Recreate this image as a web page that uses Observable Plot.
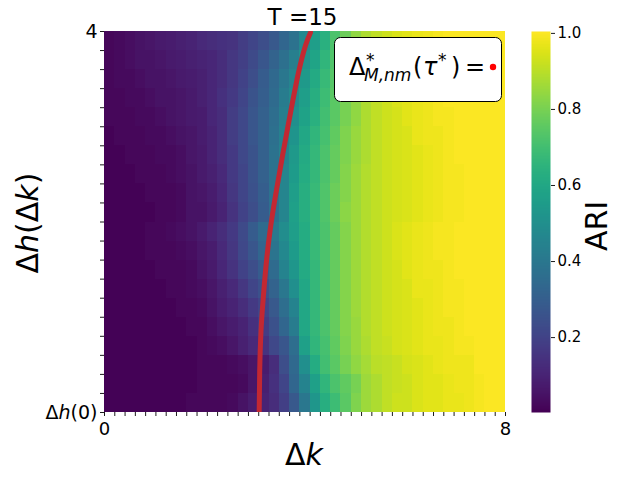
<!DOCTYPE html>
<html><head><meta charset="utf-8">
<script src="https://cdn.jsdelivr.net/npm/d3@7"></script>
<script src="https://cdn.jsdelivr.net/npm/@observablehq/plot@0.6"></script>
<style>
html,body{margin:0;padding:0;background:#fff;}
#chart{position:relative;width:620px;height:478px;overflow:hidden;font-family:"DejaVu Sans",sans-serif;}
#chart svg{position:absolute;top:0;}
</style></head><body><div id="chart"></div>
<script>
// ---- Data: ARI values, rows from bottom (Δh(0)) to top (4), 39 columns over Δk ∈ [0, 8]
const row00 = [0.01,0.01,0.01,0.01,0.01,0.01,0.01,0.01,0.02,0.02,0.02,0.02,0.03,0.05,0.08,0.10,0.13,0.19,0.28,0.40,0.53,0.63,0.69,0.75,0.81,0.86,0.88,0.91,0.93,0.93,0.95,0.96,0.96,0.97,0.97,0.98,0.99,1.0,1.0];
const row01 = [0.01,0.01,0.01,0.01,0.01,0.01,0.01,0.01,0.01,0.02,0.02,0.02,0.02,0.03,0.06,0.09,0.14,0.21,0.33,0.45,0.57,0.66,0.72,0.76,0.80,0.86,0.88,0.91,0.92,0.93,0.95,0.96,0.96,0.97,0.98,0.98,0.99,1.0,1.0];
const row02 = [0.01,0.01,0.01,0.01,0.01,0.01,0.01,0.01,0.01,0.02,0.02,0.02,0.03,0.04,0.06,0.08,0.13,0.24,0.34,0.50,0.62,0.70,0.75,0.80,0.84,0.87,0.90,0.91,0.92,0.94,0.95,0.96,0.97,0.98,0.98,0.98,1.0,1.0,1.0];
const row03 = [0.01,0.01,0.01,0.01,0.01,0.01,0.01,0.01,0.01,0.02,0.03,0.04,0.06,0.09,0.12,0.15,0.22,0.27,0.36,0.57,0.66,0.71,0.76,0.81,0.85,0.88,0.91,0.92,0.94,0.95,0.96,0.97,0.97,0.98,0.99,0.99,1.0,1.0,1.0];
const row04 = [0.01,0.01,0.01,0.01,0.01,0.01,0.01,0.01,0.02,0.02,0.04,0.06,0.08,0.10,0.14,0.18,0.25,0.33,0.42,0.60,0.67,0.72,0.77,0.82,0.85,0.89,0.91,0.93,0.94,0.95,0.96,0.97,0.98,0.98,0.99,1.0,1.0,1.0,1.0];
const row05 = [0.01,0.01,0.01,0.01,0.01,0.01,0.01,0.02,0.02,0.03,0.05,0.08,0.10,0.13,0.17,0.21,0.28,0.36,0.45,0.60,0.67,0.72,0.77,0.82,0.86,0.89,0.91,0.93,0.94,0.95,0.96,0.97,0.98,0.99,0.99,1.0,1.0,1.0,1.0];
const row06 = [0.01,0.01,0.01,0.01,0.01,0.01,0.02,0.02,0.03,0.04,0.06,0.09,0.12,0.16,0.21,0.25,0.32,0.40,0.50,0.60,0.67,0.72,0.77,0.82,0.86,0.89,0.91,0.93,0.94,0.95,0.97,0.97,0.98,0.99,0.99,1.0,1.0,1.0,1.0];
const row07 = [0.01,0.01,0.01,0.01,0.01,0.02,0.02,0.02,0.03,0.05,0.07,0.11,0.15,0.20,0.24,0.29,0.35,0.45,0.53,0.61,0.67,0.72,0.77,0.82,0.86,0.89,0.91,0.93,0.94,0.96,0.97,0.98,0.98,0.99,1.0,1.0,1.0,1.0,1.0];
const row08 = [0.01,0.01,0.01,0.01,0.02,0.02,0.02,0.03,0.04,0.06,0.08,0.12,0.16,0.22,0.27,0.33,0.39,0.47,0.55,0.62,0.68,0.72,0.77,0.82,0.86,0.89,0.91,0.93,0.95,0.96,0.97,0.98,0.99,0.99,1.0,1.0,1.0,1.0,1.0];
const row09 = [0.01,0.01,0.01,0.01,0.02,0.02,0.03,0.04,0.05,0.07,0.10,0.13,0.17,0.23,0.29,0.35,0.41,0.49,0.56,0.62,0.68,0.72,0.77,0.82,0.86,0.89,0.91,0.93,0.95,0.96,0.97,0.98,0.99,0.99,1.0,1.0,1.0,1.0,1.0];
const row10 = [0.01,0.01,0.01,0.01,0.01,0.02,0.02,0.03,0.05,0.05,0.07,0.10,0.15,0.20,0.24,0.29,0.37,0.46,0.57,0.63,0.68,0.73,0.78,0.83,0.86,0.89,0.91,0.93,0.94,0.95,0.96,0.97,0.98,0.99,0.99,1.0,1.0,1.0,1.0];
const row11 = [0.01,0.01,0.01,0.01,0.02,0.02,0.02,0.03,0.05,0.06,0.08,0.11,0.16,0.21,0.25,0.30,0.38,0.46,0.56,0.63,0.68,0.73,0.78,0.82,0.86,0.89,0.91,0.93,0.94,0.95,0.96,0.97,0.98,0.99,0.99,1.0,1.0,1.0,1.0];
const row12 = [0.01,0.01,0.01,0.02,0.02,0.02,0.03,0.04,0.05,0.07,0.09,0.12,0.17,0.21,0.26,0.31,0.38,0.46,0.55,0.62,0.67,0.72,0.77,0.82,0.86,0.89,0.91,0.93,0.94,0.95,0.96,0.97,0.98,0.99,0.99,1.0,1.0,1.0,1.0];
const row13 = [0.01,0.01,0.02,0.02,0.02,0.03,0.03,0.04,0.06,0.07,0.10,0.13,0.17,0.22,0.26,0.31,0.38,0.45,0.54,0.61,0.67,0.72,0.77,0.81,0.85,0.88,0.91,0.93,0.94,0.95,0.96,0.97,0.98,0.99,1.0,1.0,1.0,1.0,1.0];
const row14 = [0.01,0.02,0.02,0.02,0.03,0.03,0.04,0.05,0.06,0.08,0.10,0.13,0.18,0.22,0.27,0.31,0.37,0.44,0.52,0.60,0.66,0.71,0.76,0.81,0.85,0.88,0.91,0.93,0.94,0.95,0.97,0.98,0.98,0.99,1.0,1.0,1.0,1.0,1.0];
const row15 = [0.02,0.02,0.02,0.03,0.03,0.04,0.05,0.06,0.07,0.08,0.11,0.13,0.18,0.22,0.27,0.31,0.36,0.43,0.50,0.58,0.64,0.70,0.75,0.80,0.84,0.88,0.91,0.93,0.94,0.96,0.97,0.98,0.99,0.99,1.0,1.0,1.0,1.0,1.0];
const row16 = [0.02,0.02,0.03,0.03,0.04,0.05,0.05,0.06,0.07,0.09,0.11,0.14,0.17,0.21,0.26,0.30,0.35,0.42,0.48,0.56,0.63,0.69,0.75,0.80,0.84,0.88,0.91,0.93,0.95,0.96,0.97,0.98,0.99,1.0,1.0,1.0,1.0,1.0,1.0];
const row17 = [0.02,0.03,0.03,0.04,0.05,0.05,0.06,0.07,0.08,0.09,0.11,0.13,0.16,0.20,0.24,0.29,0.34,0.40,0.46,0.54,0.61,0.68,0.74,0.79,0.84,0.88,0.91,0.93,0.95,0.96,0.97,0.98,0.99,1.0,1.0,1.0,1.0,1.0,1.0];
const row18 = [0.02,0.03,0.04,0.05,0.05,0.06,0.07,0.08,0.09,0.10,0.11,0.13,0.16,0.19,0.23,0.27,0.32,0.37,0.43,0.51,0.59,0.66,0.73,0.79,0.84,0.88,0.91,0.93,0.95,0.96,0.97,0.98,0.99,1.0,1.0,1.0,1.0,1.0,1.0];
const row19 = [0.02,0.03,0.04,0.05,0.06,0.07,0.08,0.09,0.10,0.12,0.13,0.14,0.15,0.18,0.21,0.24,0.28,0.33,0.38,0.47,0.56,0.64,0.72,0.78,0.84,0.88,0.91,0.93,0.95,0.96,0.97,0.98,0.99,1.0,1.0,1.0,1.0,1.0,1.0];
const ariRows = [row00,row01,row02,row03,row04,row05,row06,row07,row08,row09,row10,row11,row12,row13,row14,row15,row16,row17,row18,row19];

// Red curve Δ*_{M,nm}(τ*) (Δk, Δh)
const curveDk = [3.086, 3.096, 3.122, 3.162, 3.222, 3.302, 3.411, 3.551, 3.711, 3.870, 4.010, 4.110];
const curveDh = [0.000, 0.432, 0.853, 1.168, 1.537, 1.905, 2.274, 2.695, 3.147, 3.568, 3.853, 3.989];

// Axes / ticks
const xMax = 8, yMax = 4;
const xTickValues = [0, 8];
const xTickLabels = ["0", "8"];
const yTickValues = [0, 4];
const yTickLabels = ["Δh(0)", "4"];
const cbTicks = [0.2, 0.4, 0.6, 0.8, 1.0];
const ariDomain = [0.003, 1.005];
const titleText = "T =15";
const curveColor = "#c22832";

// ---- Build tables
const nRows = ariRows.length, nCols = row00.length;
const cw = xMax / nCols, rh = yMax / nRows;
const cells = [];
ariRows.forEach((row, r) => row.forEach((v, c) => cells.push({x1: c*cw, x2: (c+1)*cw, y1: r*rh, y2: (r+1)*rh, v})));
const curve = curveDk.map((x, i) => ({x, y: curveDh[i]}));
const xMinor = d3.range(1, nCols).map(i => i*cw);
const yMinor = d3.range(1, nRows).map(i => i*rh);

const FONT = "DejaVu Sans, sans-serif";
const W = 620, H = 478;

const main = Plot.plot({
  width: W, height: H,
  marginLeft: 104, marginRight: 115, marginTop: 31, marginBottom: 66,
  style: {fontFamily: FONT, color: "black", background: "white", overflow: "visible"},
  x: {domain: [0, xMax], label: null, axis: null},
  y: {domain: [0, yMax], label: null, axis: null},
  color: {type: "linear", scheme: "viridis", domain: ariDomain},
  marks: [
    Plot.rect(cells, {x1: "x1", x2: "x2", y1: "y1", y2: "y2", fill: "v", shapeRendering: "crispEdges"}),
    Plot.line(curve, {x: "x", y: "y", stroke: curveColor, strokeWidth: 5, curve: "natural", clip: true, strokeLinecap: "round"}),
    Plot.axisX({ticks: xMinor, tickSize: 4, tickFormat: () => "", strokeWidth: 0.9}),
    Plot.axisX({ticks: xTickValues, tickSize: 4, tickPadding: 6, strokeWidth: 0.9, fontSize: 18,
      tickFormat: d => xTickLabels[xTickValues.indexOf(d)]}),
    Plot.axisY({ticks: yMinor, tickSize: 4, tickFormat: () => "", strokeWidth: 0.9}),
    Plot.axisY({ticks: yTickValues, tickSize: 4, tickPadding: 3, strokeWidth: 0.9, fontSize: 19,
      tickFormat: d => yTickLabels[yTickValues.indexOf(d)]})
  ]
});

const svg = d3.select(main);
// italic h in Δh(0)
svg.selectAll("text").each(function() {
  if (this.textContent === "Δh(0)") {
    const t = d3.select(this); t.text(null);
    t.append("tspan").text("Δ");
    t.append("tspan").attr("font-style", "italic").text("h");
    t.append("tspan").text("(0)");
  }
});
// Title
svg.append("text").attr("x", 302.5).attr("y", 25).attr("text-anchor", "middle")
  .attr("font-family", FONT).attr("font-size", 23).attr("fill", "black").text(titleText);
// X label Δk
const xl = svg.append("text").attr("x", 304).attr("y", 465).attr("text-anchor", "middle")
  .attr("font-family", FONT).attr("font-size", 30).attr("fill", "black");
xl.append("tspan").text("Δ"); xl.append("tspan").attr("font-style", "italic").text("k");
// Y label Δh(Δk)
const yl = svg.append("text").attr("transform", "translate(38,223) rotate(-90)").attr("text-anchor", "middle")
  .attr("font-family", FONT).attr("font-size", 30).attr("fill", "black");
yl.append("tspan").text("Δ"); yl.append("tspan").attr("font-style", "italic").text("h");
yl.append("tspan").text("(Δ"); yl.append("tspan").attr("font-style", "italic").text("k");
yl.append("tspan").text(")");
// Legend box
const lg = svg.append("g").attr("font-family", FONT).attr("fill", "black").attr("text-anchor", "start");
lg.append("rect").attr("x", 334.5).attr("y", 37.5).attr("width", 167).attr("height", 64).attr("rx", 6)
  .attr("fill", "white").attr("stroke", "black").attr("stroke-width", 1);
const lt = (x, y, size, str, italic) => lg.append("text").attr("x", x).attr("y", y)
  .attr("font-size", size).attr("text-anchor", "start").attr("font-style", italic ? "italic" : "normal").text(str);
lt(349, 75, 24, "Δ");
lt(366, 66, 17, "*");
lt(364, 81, 17, "M,nm", true);
lt(413, 75, 24, "(");
lt(423, 75, 24, "τ", true);
lt(438, 66, 17, "*");
lt(451, 75, 24, ")");
lt(465, 75, 24, "=");
lg.append("circle").attr("cx", 493).attr("cy", 67).attr("r", 3.2).attr("fill", "red");

// ---- Colorbar
const cb = Plot.plot({
  width: 89, height: H,
  marginLeft: 0, marginRight: 70, marginTop: 31, marginBottom: 66,
  style: {fontFamily: FONT, color: "black", background: "transparent", overflow: "visible"},
  x: {domain: [0, 1], axis: null},
  y: {domain: ariDomain, label: null, axis: null},
  color: {type: "linear", scheme: "viridis", domain: ariDomain},
  marks: [
    Plot.raster({fill: (x, y) => y, x1: 0, x2: 1, y1: ariDomain[0], y2: ariDomain[1], pixelSize: 1}),
    Plot.axisY({anchor: "right", ticks: cbTicks, tickSize: 4, tickPadding: 3, strokeWidth: 0.9, fontSize: 15,
      tickFormat: d => d.toFixed(1)})
  ]
});
cb.style.left = "531px";
d3.select(cb).append("text").attr("transform", "translate(76,226) rotate(-90)").attr("text-anchor", "middle")
  .attr("font-family", FONT).attr("font-size", 30).attr("fill", "black").text("ARI");

const chart = document.getElementById("chart");
main.style.left = "0px";
chart.appendChild(main);
chart.appendChild(cb);
</script></body></html>
